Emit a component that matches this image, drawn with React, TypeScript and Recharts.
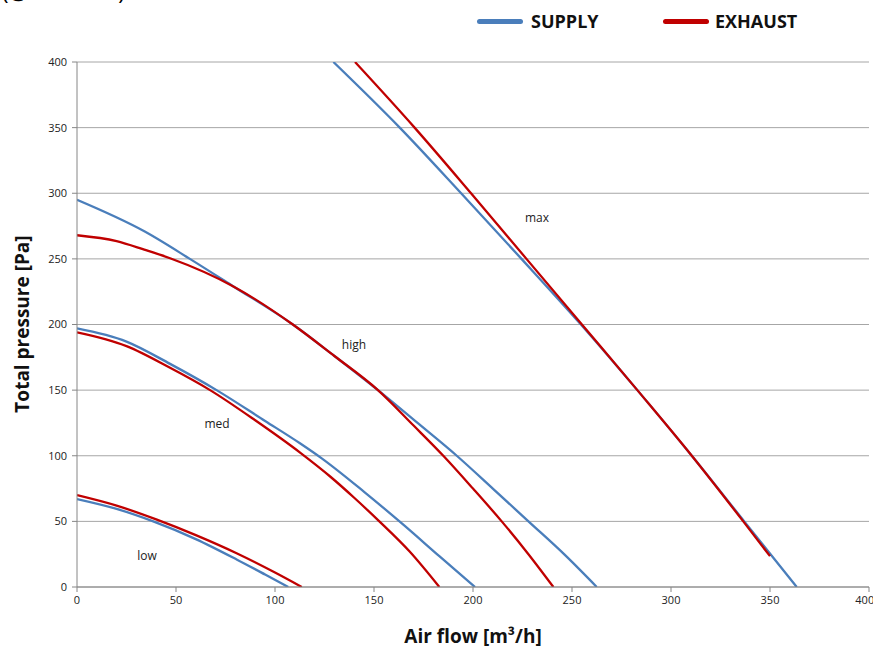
import React from "react";
import { LineChart, Line, XAxis, YAxis, CartesianGrid } from "recharts";

const xTicks = [0, 50, 100, 150, 200, 250, 300, 350, 400];
const yTicks = [0, 50, 100, 150, 200, 250, 300, 350, 400];

const supplyLow = [
  { x: 0, y: 67 }, { x: 20, y: 59.5 }, { x: 38.5, y: 50 }, { x: 60, y: 36.5 },
  { x: 80.6, y: 21 }, { x: 95, y: 9.5 }, { x: 106.7, y: 0 },
];
const exhaustLow = [
  { x: 0, y: 70 }, { x: 20, y: 62 }, { x: 40, y: 51.5 }, { x: 60, y: 39.5 },
  { x: 80.6, y: 25.7 }, { x: 100, y: 11 }, { x: 113.5, y: 0 },
];
const supplyMed = [
  { x: 0, y: 197 }, { x: 25, y: 187 }, { x: 47, y: 170 }, { x: 70.5, y: 150 },
  { x: 95, y: 126.5 }, { x: 112.6, y: 109.5 }, { x: 123.6, y: 98 }, { x: 145, y: 72.5 },
  { x: 164.8, y: 47.5 }, { x: 183, y: 23.5 }, { x: 201, y: 0 },
];
const exhaustMed = [
  { x: 0, y: 194 }, { x: 25, y: 183.5 }, { x: 47, y: 167 }, { x: 67.2, y: 150 },
  { x: 90, y: 127 }, { x: 113, y: 102 }, { x: 128, y: 84 }, { x: 140, y: 68 },
  { x: 152.7, y: 50 }, { x: 168, y: 27 }, { x: 183, y: 0 },
];
const supplyHigh = [
  { x: 0, y: 295 }, { x: 34, y: 271 }, { x: 57, y: 250 }, { x: 79, y: 229 },
  { x: 109, y: 200 }, { x: 130, y: 176 }, { x: 152, y: 150 }, { x: 172, y: 125 },
  { x: 191.8, y: 100 }, { x: 210, y: 75 }, { x: 228, y: 50 }, { x: 246, y: 25 },
  { x: 262.5, y: 0 },
];
const exhaustHigh = [
  { x: 0, y: 268 }, { x: 20, y: 263.5 }, { x: 34, y: 257 }, { x: 47, y: 250.5 },
  { x: 79, y: 229 }, { x: 109, y: 200 }, { x: 130, y: 176 }, { x: 152, y: 150 },
  { x: 170, y: 123 }, { x: 185, y: 100 }, { x: 200, y: 75 }, { x: 214.5, y: 50 },
  { x: 228, y: 25 }, { x: 240.6, y: 0 },
];
const supplyMax = [
  { x: 129.5, y: 400 }, { x: 163, y: 350 }, { x: 194, y: 300 }, { x: 224.5, y: 250 },
  { x: 254.5, y: 200 }, { x: 283, y: 150 }, { x: 310.5, y: 100 }, { x: 337, y: 50 },
  { x: 363.5, y: 0 },
];
const exhaustMax = [
  { x: 140.4, y: 400 }, { x: 170.5, y: 350 }, { x: 199, y: 300 }, { x: 227, y: 250 },
  { x: 255, y: 200 }, { x: 283, y: 150 }, { x: 310.5, y: 100 }, { x: 336.5, y: 50 },
  { x: 350, y: 23.5 },
];

const curveLabels = [
  { text: "low", left: 147, top: 555 },
  { text: "med", left: 217, top: 423 },
  { text: "high", left: 354, top: 344 },
  { text: "max", left: 537, top: 217 },
];

const SUPPLY = "#4a7ebb";
const EXHAUST = "#c00000";
const tickFont = { fontSize: 11, fill: "#222", fontFamily: "'Liberation Sans Narrow', 'Open Sans', sans-serif" };

const series = [
  { data: supplyLow, color: SUPPLY },
  { data: exhaustLow, color: EXHAUST },
  { data: supplyMed, color: SUPPLY },
  { data: exhaustMed, color: EXHAUST },
  { data: supplyHigh, color: SUPPLY },
  { data: exhaustHigh, color: EXHAUST },
  { data: supplyMax, color: SUPPLY },
  { data: exhaustMax, color: EXHAUST },
];

export default function App() {
  return (
    <div style={{ position: "absolute", left: 0, top: 0, width: 873, height: 651, background: "#fff", overflow: "hidden", fontFamily: "'Open Sans', sans-serif" }}>
      <div style={{ position: "absolute", left: 2, top: -24, fontSize: 22, color: "#000", whiteSpace: "nowrap" }}>(@ 230 VAC)</div>
      <LineChart width={873} height={651} margin={{ top: 62, right: 4, bottom: 34, left: 0 }}>
        <CartesianGrid vertical={false} stroke="#a6a6a6" strokeWidth={1} />
        <XAxis
          type="number"
          dataKey="x"
          domain={[0, 400]}
          ticks={xTicks}
          allowDataOverflow
          height={30}
          tick={tickFont}
          tickSize={5}
          tickMargin={4}
          stroke="#868686"
        />
        <YAxis
          type="number"
          dataKey="y"
          domain={[0, 400]}
          ticks={yTicks}
          allowDataOverflow
          width={77}
          tick={tickFont}
          tickSize={5}
          tickMargin={5}
          stroke="#868686"
        />
        {series.map((s, i) => (
          <Line
            key={i}
            data={s.data}
            dataKey="y"
            type="monotone"
            stroke={s.color}
            strokeWidth={2.3}
            dot={false}
            activeDot={false}
            isAnimationActive={false}
          />
        ))}
      </LineChart>
      {curveLabels.map((l) => (
        <div key={l.text} style={{ position: "absolute", left: l.left, top: l.top, transform: "translate(-50%, -50%)", fontSize: 12, color: "#222" }}>{l.text}</div>
      ))}
      <div style={{ position: "absolute", left: 22, top: 324, transform: "translate(-50%, -50%) rotate(-90deg)", fontSize: 19, fontWeight: 700, whiteSpace: "nowrap", color: "#111" }}>Total pressure [Pa]</div>
      <div style={{ position: "absolute", left: 473, top: 636, transform: "translate(-50%, -50%)", fontSize: 19, fontWeight: 700, whiteSpace: "nowrap", color: "#111" }}>Air flow [m³/h]</div>
      <div style={{ position: "absolute", left: 477, top: 19, width: 46, height: 5, borderRadius: 3, background: SUPPLY }} />
      <div style={{ position: "absolute", left: 531, top: 21, transform: "translateY(-50%)", fontSize: 18, fontWeight: 700, color: "#111" }}>SUPPLY</div>
      <div style={{ position: "absolute", left: 663, top: 19, width: 46, height: 5, borderRadius: 3, background: EXHAUST }} />
      <div style={{ position: "absolute", left: 715, top: 21, transform: "translateY(-50%)", fontSize: 18, fontWeight: 700, color: "#111" }}>EXHAUST</div>
    </div>
  );
}
